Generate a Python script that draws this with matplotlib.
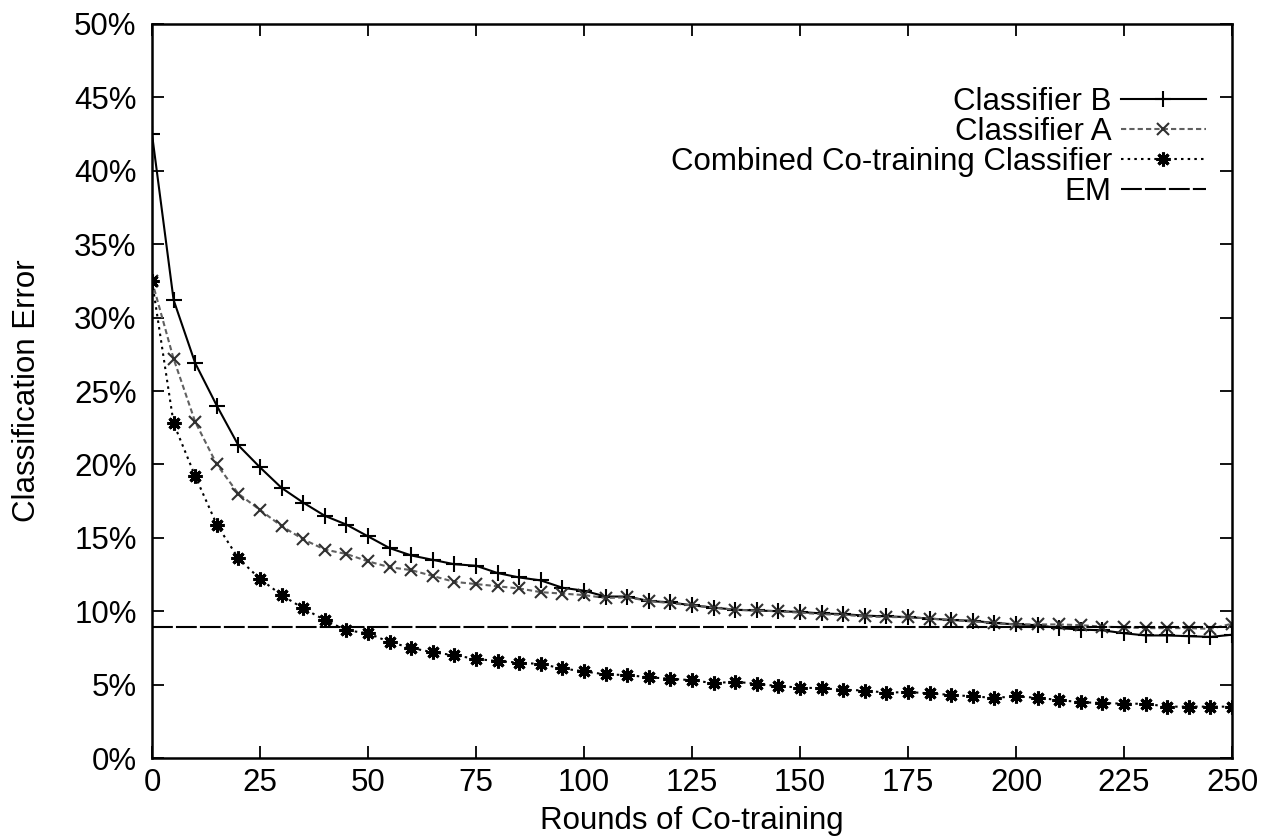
import matplotlib
matplotlib.use("Agg")
import matplotlib.pyplot as plt
from matplotlib.ticker import FuncFormatter, MultipleLocator

# rounds of co-training, one point every 5 rounds
rounds = list(range(0, 251, 5))

classifier_b = [42.5, 31.2, 26.9, 24.0, 21.3, 19.8, 18.4, 17.4, 16.5, 15.9,
                15.1, 14.3, 13.8, 13.5, 13.2, 13.1, 12.6, 12.3, 12.1, 11.6,
                11.4, 11.0, 11.0, 10.7, 10.6, 10.4, 10.25, 10.1, 10.05, 10.0,
                9.95, 9.85, 9.8, 9.7, 9.65, 9.6, 9.5, 9.4, 9.35, 9.2,
                9.1, 9.05, 8.85, 8.75, 8.7, 8.5, 8.35, 8.35, 8.3, 8.25,
                8.4]

classifier_a = [32.5, 27.2, 22.9, 20.0, 18.0, 16.9, 15.8, 14.9, 14.2, 13.9,
                13.4, 13.0, 12.8, 12.4, 12.0, 11.85, 11.7, 11.55, 11.3, 11.2,
                11.1, 10.9, 10.95, 10.7, 10.55, 10.4, 10.25, 10.1, 10.05, 10.0,
                9.9, 9.8, 9.75, 9.65, 9.6, 9.6, 9.5, 9.4, 9.3, 9.2,
                9.1, 9.1, 9.1, 9.05, 8.95, 8.9, 8.85, 8.85, 8.85, 8.8,
                9.15]

combined = [32.5, 22.8, 19.2, 15.9, 13.6, 12.2, 11.1, 10.2, 9.4, 8.7,
            8.5, 7.9, 7.5, 7.2, 7.0, 6.75, 6.6, 6.5, 6.4, 6.1,
            5.9, 5.7, 5.65, 5.5, 5.4, 5.3, 5.1, 5.2, 5.05, 4.9,
            4.8, 4.75, 4.65, 4.6, 4.45, 4.5, 4.4, 4.3, 4.2, 4.1,
            4.2, 4.1, 3.95, 3.8, 3.75, 3.7, 3.7, 3.5, 3.5, 3.5,
            3.5]

em_error = 8.9

plt.rcParams['font.family'] = ['Liberation Sans', 'DejaVu Sans']
plt.rcParams['font.size'] = 22.5

fig = plt.figure(figsize=(12.73, 8.39), dpi=100)
ax = fig.add_axes([0.1194, 0.0965, 0.8484, 0.8749])

ax.plot(rounds, classifier_b, color='black', lw=1.5, marker='+',
        ms=11, mew=1.5, label='Classifier B')
ax.plot(rounds, classifier_a, color='#606060', lw=1.5, dashes=(2.5, 1.5),
        marker='x', ms=9, mew=1.5, mec='#303030', label='Classifier A')
ax.plot(rounds, combined, color='black', lw=1.5, dashes=(1.2, 2.0),
        marker=(8, 2, 0), ms=10, mew=2.2, label='Combined Co-training Classifier')
ax.axhline(em_error, color='black', lw=1.5, dashes=(10, 1.5), label='EM')

ax.set_xlim(0, 250)
ax.set_ylim(0, 50)
ax.xaxis.set_major_locator(MultipleLocator(25))
ax.yaxis.set_major_locator(MultipleLocator(5))
ax.yaxis.set_major_formatter(FuncFormatter(lambda v, p: '%d%%' % v))

ax.tick_params(direction='in', length=8.5, width=1.3,
               top=True, right=True)
ax.tick_params(axis='y', pad=11)
ax.tick_params(axis='x', pad=7)
for s in ax.spines.values():
    s.set_linewidth(1.8)

ax.set_xlabel('Rounds of Co-training')
ax.set_ylabel('Classification Error')
ax.xaxis.set_label_coords(0.5, -0.066)
ax.yaxis.set_label_coords(-0.102, 0.5)

ax.legend(loc='upper right', bbox_to_anchor=(0.99, 0.935), frameon=False,
          markerfirst=False, handlelength=2.7, handletextpad=0.3,
          labelspacing=0.0, borderpad=0)

fig.savefig('out.png', dpi=100)
